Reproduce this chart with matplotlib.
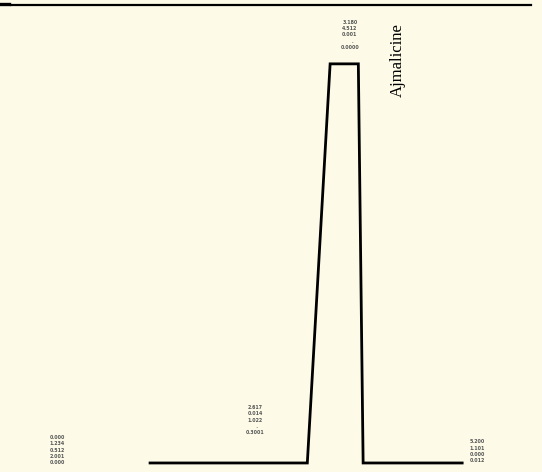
import matplotlib

matplotlib.use("Agg")
import matplotlib.pyplot as plt

# chromatogram trace (time in min, response in mV)
time = [0.0, 2.62, 3.0, 3.47, 3.55, 5.2]
response = [0.0, 0.0, 100.0, 100.0, 0.0, 0.0]

peak_name = "Ajmalicine"
# small retention-time marks printed by the integrator
mark_times = [-1.55, 1.75, 3.33, 5.45]
mark_levels = [-0.5, 7.0, 103.5, 0.0]
mark_texts = ["0.000\n1.234\n0.512\n2.001\n0.000", "2.617\n0.014\n1.022\n  .\n0.3001",
              "3.180\n4.512\n0.001\n   .\n0.0000", "5.200\n1.101\n0.000\n0.012"]

fig = plt.figure(figsize=(5.42, 4.72), dpi=100)
fig.patch.set_facecolor("#fdfbe8")
ax = fig.add_axes([0, 0, 1, 1])
ax.set_facecolor("#fdfbe8")
ax.set_xlim(-2.5, 6.53)
ax.set_ylim(-2.26, 116.0)
ax.set_axis_off()

ax.plot(time, response, color="black", lw=2.0, solid_joinstyle="miter")

ax.text(4.12, 101, peak_name, rotation=90, ha="center", va="center",
        fontsize=12, family="Liberation Serif", fontstretch="condensed")

for t, lev, txt in zip(mark_times, mark_levels, mark_texts):
    ax.text(t, lev, txt, ha="center", va="bottom", fontsize=3.4,
            color="#555555", linespacing=1.3, fontweight="bold")

# page rule at the top of the scan
ax.plot([0.02, 0.98], [0.989, 0.989], transform=ax.transAxes,
        color="black", lw=1.6, clip_on=False)
ax.plot([0.0, 0.017], [0.991, 0.991], transform=ax.transAxes,
        color="black", lw=2.4, clip_on=False)

fig.savefig("out.png", dpi=100, facecolor=fig.get_facecolor())
